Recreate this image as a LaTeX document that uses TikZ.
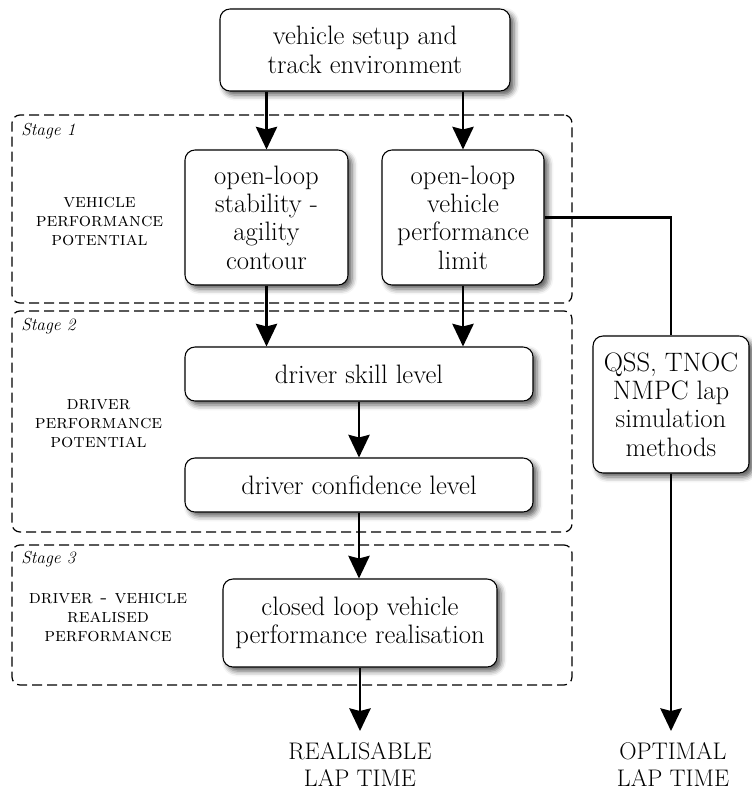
\documentclass[tikz,border=0pt]{standalone}
\usetikzlibrary{arrows.meta,shadows.blur,calc}
\tikzset{
 box/.style={draw, rounded corners=7.5pt, fill=white, line width=0.8pt, align=center,
   font=\fontsize{20}{21.25}\selectfont, inner sep=2pt,
   blur shadow={shadow xshift=3pt, shadow yshift=-3pt, shadow blur radius=4pt, shadow opacity=65}},
 stagebox/.style={draw, dash pattern=on 7.5pt off 3.75pt, rounded corners=6pt, line width=0.9pt},
 flow/.style={line width=1.8pt, -{Stealth[length=17pt,width=16pt,inset=2pt]}},
 link/.style={line width=1.8pt},
 stagetag/.style={font=\fontsize{13}{15}\selectfont\itshape, anchor=base west, inner sep=0pt},
 category/.style={font=\fontsize{14.5}{14.25}\selectfont\scshape, align=center, inner sep=0pt},
 outcome/.style={font=\fontsize{18}{20.5}\selectfont, align=center, anchor=north, inner sep=0pt}
}
\begin{document}
\begin{tikzpicture}[x=0.75pt,y=-0.75pt]
\useasboundingbox (0,0) rectangle (751,792);
% stage containers
\node[stagebox, minimum width=420pt, minimum height=141pt] (s1) at (292,209) {};
\node[stagebox, minimum width=420pt, minimum height=165.75pt] (s2) at (292,421.5) {};
\node[stagebox, minimum width=420pt, minimum height=105pt] (s3) at (292,615) {};
\node[stagetag] (t1) at (21,135) {Stage 1};
\node[stagetag] (t2) at (21,330.5) {Stage 2};
\node[stagetag] (t3) at (21,563) {Stage 3};
\node[category] (c1) at (99.5,222) {vehicle\\performance\\potential};
\node[category] (c2) at (98.5,423.5) {driver\\performance\\potential};
\node[category] (c3) at (108,617.5) {driver - vehicle\\realised\\performance};
% process boxes
\node[box, minimum width=217.5pt, minimum height=61.5pt] (top) at (365,50) {vehicle setup and\\track environment};
\node[box, minimum width=122.25pt, minimum height=101.25pt] (ol1) at (266.5,217.5) {open-loop\\stability -\\agility\\contour};
\node[box, minimum width=121.5pt, minimum height=101.25pt] (ol2) at (463,217.5) {open-loop\\vehicle\\performance\\limit};
\node[box, minimum width=261pt, minimum height=40.5pt] (skill) at (359,374) {driver skill level};
\node[box, minimum width=261pt, minimum height=40.5pt] (conf) at (359,485) {driver confidence level};
\node[box, minimum width=205.5pt, minimum height=66pt] (closed) at (360,623) {closed loop vehicle\\performance realisation};
\node[box, minimum width=117pt, minimum height=102.75pt] (qss) at (671,404.5) {QSS, TNOC\\NMPC lap\\simulation\\methods};
\node[outcome] (real) at (360,742) {REALISABLE\\LAP TIME};
\node[outcome] (opt) at (673,742) {OPTIMAL\\LAP TIME};
% connectors
\draw[flow] (top.south -| ol1.north) -- (ol1.north);
\draw[flow] (top.south -| ol2.north) -- (ol2.north);
\draw[flow] (ol1.south) -- (ol1.south |- skill.north);
\draw[flow] (ol2.south) -- (ol2.south |- skill.north);
\draw[flow] (skill.south) -- (conf.north);
\draw[flow] (conf.south) -- (conf.south |- closed.north);
\draw[flow] (closed.south) -- ($(real.north)+(0,-11)$);
\draw[link] (ol2.east) -| (qss.north);
\draw[flow] (qss.south) -- ($(opt.north -| qss.south)+(0,-11)$);
\end{tikzpicture}
\end{document}
